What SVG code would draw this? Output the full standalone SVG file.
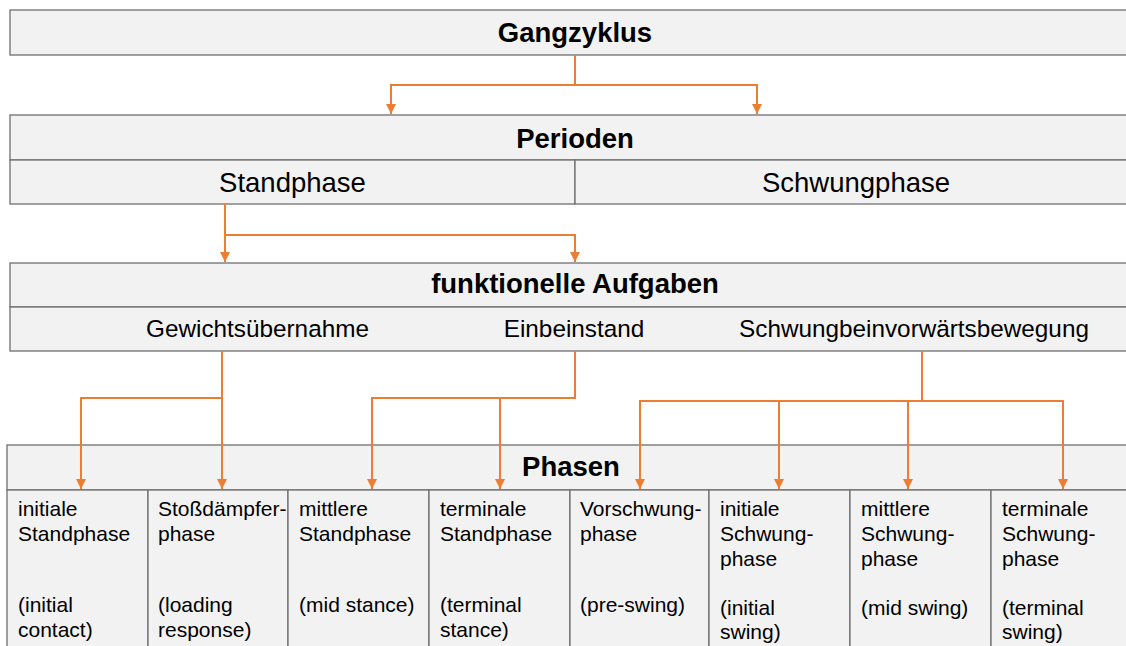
<svg xmlns="http://www.w3.org/2000/svg" width="1126" height="646" viewBox="0 0 1126 646">
<defs>
<style>
.box{fill:#f2f2f2;stroke:#6f6f6f;stroke-width:1.3}
.h{font-family:"Liberation Sans",Arial,sans-serif;font-weight:bold;font-size:27.5px;fill:#000;text-anchor:middle}
.t{font-family:"Liberation Sans",Arial,sans-serif;font-size:27.5px;fill:#000;text-anchor:middle}
.m{font-family:"Liberation Sans",Arial,sans-serif;font-size:24.3px;fill:#000;text-anchor:middle}
.s{font-family:"Liberation Sans",Arial,sans-serif;font-size:21px;fill:#000}
.c{fill:none;stroke:#ed7d31;stroke-width:2}
</style>
<marker id="ar" viewBox="0 0 10 10" refX="10" refY="5" markerWidth="10" markerHeight="10" markerUnits="userSpaceOnUse" orient="auto">
<path d="M0,0 L10,5 L0,10 z" fill="#ed7d31"/>
</marker>
</defs>
<rect width="1126" height="646" fill="#fff"/>

<g id="gangzyklus">
<rect class="box" x="10" y="10" width="1130" height="45"/>
<text class="h" x="575" y="42">Gangzyklus</text>
</g>

<g id="perioden">
<rect class="box" x="10" y="115" width="1130" height="45"/>
<text class="h" x="575" y="147.5">Perioden</text>
</g>
<g id="standphase">
<rect class="box" x="10" y="160" width="565" height="44"/>
<text class="t" x="292.5" y="192">Standphase</text>
</g>
<g id="schwungphase">
<rect class="box" x="575" y="160" width="565" height="44"/>
<text class="t" x="856" y="192">Schwungphase</text>
</g>

<g id="aufgaben">
<rect class="box" x="10" y="263" width="1130" height="44"/>
<text class="h" x="575" y="293">funktionelle Aufgaben</text>
<rect class="box" x="10" y="307" width="1130" height="44"/>
</g>
<g id="gewicht"><text class="m" x="257.5" y="337">Gewichtsübernahme</text></g>
<g id="einbein"><text class="m" x="574" y="337">Einbeinstand</text></g>
<g id="schwungbein"><text class="m" x="914" y="337">Schwungbeinvorwärtsbewegung</text></g>

<g id="phasen">
<rect class="box" x="7" y="445" width="1130" height="45"/>
<text class="h" x="571" y="476">Phasen</text>
</g>
<g id="p1"><rect class="box" x="7" y="490" width="141" height="170"/>
<text class="s" y="516"><tspan x="18">initiale</tspan><tspan x="18" dy="25">Standphase</tspan><tspan x="18" dy="71">(initial</tspan><tspan x="18" dy="25">contact)</tspan></text></g>
<g id="p2"><rect class="box" x="148" y="490" width="140" height="170"/>
<text class="s" y="516"><tspan x="158">Stoßdämpfer-</tspan><tspan x="158" dy="25">phase</tspan><tspan x="158" dy="71">(loading</tspan><tspan x="158" dy="25">response)</tspan></text></g>
<g id="p3"><rect class="box" x="288" y="490" width="141" height="170"/>
<text class="s" y="516"><tspan x="299">mittlere</tspan><tspan x="299" dy="25">Standphase</tspan><tspan x="299" dy="71">(mid stance)</tspan></text></g>
<g id="p4"><rect class="box" x="429" y="490" width="141" height="170"/>
<text class="s" y="516"><tspan x="440">terminale</tspan><tspan x="440" dy="25">Standphase</tspan><tspan x="440" dy="71">(terminal</tspan><tspan x="440" dy="25">stance)</tspan></text></g>
<g id="p5"><rect class="box" x="570" y="490" width="139" height="170"/>
<text class="s" y="516"><tspan x="580">Vorschwung-</tspan><tspan x="580" dy="25">phase</tspan><tspan x="580" dy="71">(pre-swing)</tspan></text></g>
<g id="p6"><rect class="box" x="709" y="490" width="141" height="170"/>
<text class="s" y="516"><tspan x="720">initiale</tspan><tspan x="720" dy="25">Schwung-</tspan><tspan x="720" dy="25">phase</tspan><tspan x="720" dy="49">(initial</tspan><tspan x="720" dy="24">swing)</tspan></text></g>
<g id="p7"><rect class="box" x="850" y="490" width="141" height="170"/>
<text class="s" y="516"><tspan x="861">mittlere</tspan><tspan x="861" dy="25">Schwung-</tspan><tspan x="861" dy="25">phase</tspan><tspan x="861" dy="49">(mid swing)</tspan></text></g>
<g id="p8"><rect class="box" x="991" y="490" width="150" height="170"/>
<text class="s" y="516"><tspan x="1002">terminale</tspan><tspan x="1002" dy="25">Schwung-</tspan><tspan x="1002" dy="25">phase</tspan><tspan x="1002" dy="49">(terminal</tspan><tspan x="1002" dy="24">swing)</tspan></text></g>

<g id="connectors">
<path class="c" d="M575,55 V85"/>
<path class="c" d="M575,85 H391 V114" marker-end="url(#ar)"/>
<path class="c" d="M575,85 H757 V114" marker-end="url(#ar)"/>
<path class="c" d="M225,204 V262" marker-end="url(#ar)"/>
<path class="c" d="M225,235 H575 V262" marker-end="url(#ar)"/>
<path class="c" d="M222,351 V489" marker-end="url(#ar)"/>
<path class="c" d="M222,398 H81 V489" marker-end="url(#ar)"/>
<path class="c" d="M575,351 V398 H372 V489" marker-end="url(#ar)"/>
<path class="c" d="M500,398 V489" marker-end="url(#ar)"/>
<path class="c" d="M922,351 V401"/>
<path class="c" d="M922,401 H640 V489" marker-end="url(#ar)"/>
<path class="c" d="M779,401 V489" marker-end="url(#ar)"/>
<path class="c" d="M908,401 V489" marker-end="url(#ar)"/>
<path class="c" d="M922,401 H1063 V489" marker-end="url(#ar)"/>
</g>
</svg>
